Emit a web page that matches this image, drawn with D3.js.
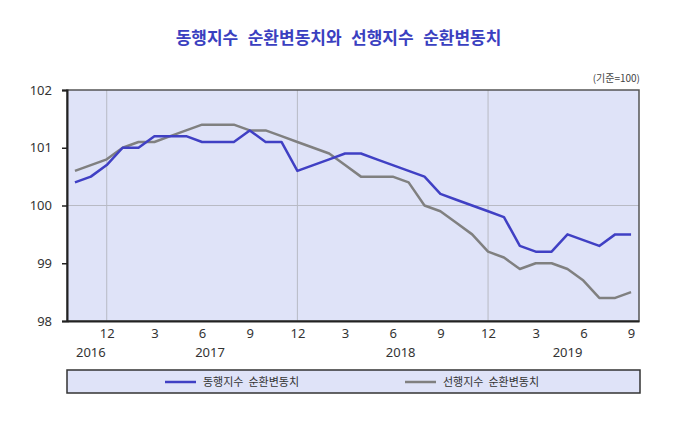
<!DOCTYPE html>
<html><head><meta charset="utf-8">
<script src="https://cdn.jsdelivr.net/npm/d3@7"></script>
<style>body{margin:0;background:#fff;}svg{display:block;}</style>
</head><body>
<script>
const categories = ["2016.10","2016.11","2016.12",
 "2017.01","2017.02","2017.03","2017.04","2017.05","2017.06","2017.07","2017.08","2017.09","2017.10","2017.11","2017.12",
 "2018.01","2018.02","2018.03","2018.04","2018.05","2018.06","2018.07","2018.08","2018.09","2018.10","2018.11","2018.12",
 "2019.01","2019.02","2019.03","2019.04","2019.05","2019.06","2019.07","2019.08","2019.09"];
const coincident = [100.4,100.5,100.7,101.0,101.0,101.2,101.2,101.2,101.1,101.1,101.1,101.3,101.1,101.1,100.6,
 100.7,100.8,100.9,100.9,100.8,100.7,100.6,100.5,100.2,100.1,100.0,99.9,99.8,99.3,99.2,99.2,99.5,99.4,99.3,99.5,99.5];
const leading = [100.6,100.7,100.8,101.0,101.1,101.1,101.2,101.3,101.4,101.4,101.4,101.3,101.3,101.2,101.1,
 101.0,100.9,100.7,100.5,100.5,100.5,100.4,100.0,99.9,99.7,99.5,99.2,99.1,98.9,99.0,99.0,98.9,98.7,98.4,98.4,98.5];
const yTicks = [98,99,100,101,102];
const yearLabels = ["2016","2017","2018","2019"];
const seriesNames = ["동행지수  순환변동치","선행지수  순환변동치"];
const titleWords = ["동행지수","순환변동치와","선행지수","순환변동치"];
const unitText = "(기준=100)";

const W=680,H=437;
const L=67,R=639,T=90,B=321;
const svg=d3.select("body").append("svg").attr("width",W).attr("height",H);
const kr="'Noto Sans CJK KR','Noto Sans',sans-serif";
const num="'Noto Sans','Open Sans',sans-serif";

const x=d3.scalePoint().domain(categories).range([L,R]).padding(0.5);
const y=d3.scaleLinear().domain([98,102]).range([B,T]);

const title=svg.append("text").attr("x",338.5).attr("y",43.5).attr("text-anchor","middle")
 .attr("font-family",kr).attr("font-weight","bold").attr("font-size",17).attr("fill","#3a40c0");
title.selectAll("tspan").data(titleWords).join("tspan").attr("dx",(d,i)=>i?9.5:0).text(d=>d);
svg.append("text").attr("x",640).attr("y",82).attr("text-anchor","end")
 .attr("font-family",kr).attr("font-size",10).attr("fill","#444").text(unitText);

svg.append("rect").attr("x",L).attr("y",T).attr("width",R-L).attr("height",B-T).attr("fill","#dfe3f8");

// grid
svg.append("g").selectAll("line").data(categories.filter(c=>c.endsWith(".12"))).join("line")
 .attr("x1",d=>x(d)).attr("x2",d=>x(d)).attr("y1",T).attr("y2",B).attr("stroke","#b8bac4").attr("stroke-width",1);
svg.append("line").attr("x1",L).attr("x2",R).attr("y1",y(100)).attr("y2",y(100)).attr("stroke","#b8bac4").attr("stroke-width",1);

// border
svg.append("rect").attr("x",L).attr("y",T).attr("width",R-L).attr("height",B-T).attr("fill","none").attr("stroke","#555").attr("stroke-width",1.5);

const line=d3.line().x((d,i)=>x(categories[i])).y(d=>y(d));
svg.append("path").datum(leading).attr("d",line).attr("fill","none").attr("stroke","#808080").attr("stroke-width",2.5).attr("stroke-linejoin","round");
svg.append("path").datum(coincident).attr("d",line).attr("fill","none").attr("stroke","#4040c4").attr("stroke-width",2.5).attr("stroke-linejoin","round");

// y axis
const ya=svg.append("g").attr("transform",`translate(${L},0)`)
 .call(d3.axisLeft(y).tickValues(yTicks).tickSize(5).tickPadding(10).tickFormat(d3.format("d")));
ya.select(".domain").attr("stroke","#222").attr("stroke-width",2);
ya.selectAll(".tick line").attr("stroke","#222").attr("stroke-width",1.5);
ya.selectAll("text").attr("font-family",num).attr("font-size",13).attr("fill","#333");

// x axis
const xa=svg.append("g").attr("transform",`translate(0,${B})`)
 .call(d3.axisBottom(x).tickValues(categories.filter(c=>(+c.split(".")[1])%3===0)).tickSize(0).tickPadding(7.5)
 .tickFormat(c=>String(+c.split(".")[1])));
xa.select(".domain").attr("stroke","#222").attr("stroke-width",2);
xa.selectAll("text").attr("font-family",num).attr("font-size",13).attr("fill","#333");

svg.append("g").selectAll("text").data(yearLabels).join("text")
 .attr("x",yr=>d3.mean(categories.filter(c=>c.startsWith(yr)),c=>x(c)))
 .attr("y",356.5).attr("text-anchor","middle").attr("font-family",num).attr("font-size",13).attr("fill","#333").text(d=>d);

// legend
svg.append("rect").attr("x",67).attr("y",370).attr("width",573).attr("height",23).attr("fill","#dfe3f8").attr("stroke","#333").attr("stroke-width",1.5);
const leg=[{x:165,c:"#4040c4",t:seriesNames[0]},{x:405,c:"#808080",t:seriesNames[1]}];
leg.forEach(l=>{
 svg.append("line").attr("x1",l.x).attr("x2",l.x+31).attr("y1",382).attr("y2",382).attr("stroke",l.c).attr("stroke-width",2.5);
 svg.append("text").attr("x",l.x+38).attr("y",386).attr("font-family",kr).attr("font-size",11).attr("fill","#333")
  .style("white-space","pre").text(l.t);
});
</script>
</body></html>
